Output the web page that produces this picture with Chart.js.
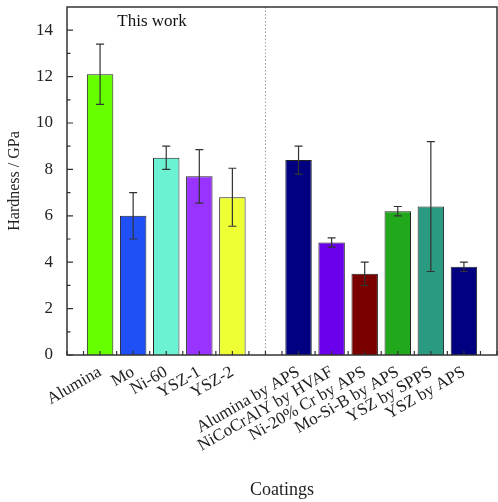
<!DOCTYPE html>
<html>
<head>
<meta charset="utf-8">
<script src="https://cdn.jsdelivr.net/npm/chart.js@4/dist/chart.umd.min.js"></script>
<style>
  html, body { margin: 0; padding: 0; background: #fff; }
  #wrap { width: 498px; height: 502px; }
</style>
</head>
<body>
<div id="wrap"><canvas id="hardness-chart"></canvas></div>
<script>
// empty slots at start, in the gap and at the end keep the spacing of the original
const categories = ['', 'Alumina', 'Mo', 'Ni-60', 'YSZ-1', 'YSZ-2', '',
  'Alumina by APS', 'NiCoCrAlY by HVAF', 'Ni-20% Cr by APS', 'Mo-Si-B by APS',
  'YSZ by SPPS', 'YSZ by APS', ''];
const hardness = [null, 12.1, 6.0, 8.5, 7.7, 6.8, null, 8.4, 4.85, 3.5, 6.2, 6.4, 3.8, null];
const hardnessErr = [null, 1.3, 1.0, 0.5, 1.15, 1.25, null, 0.6, 0.2, 0.5, 0.2, 2.8, 0.2, null];
const barColors = [null, '#66ff00', '#1e50f5', '#6cf2d2', '#9933ff', '#eeff33', null,
  '#000080', '#6a00ec', '#7a0000', '#22a81c', '#2a9a80', '#000080', null];
const yTicks = [0, 2, 4, 6, 8, 10, 12, 14];
const dividerIndex = 6;

const serif = '"Liberation Serif", "DejaVu Serif", serif';

function noPadding(scale) {
  scale.paddingLeft = 0;
  scale.paddingRight = 0;
  scale.paddingTop = 0;
  scale.paddingBottom = 0;
}

// error bars, inward ticks, frame, divider and the "This work" note
const extras = {
  id: 'extras',
  afterDatasetsDraw(chart) {
    const ctx = chart.ctx;
    const y = chart.scales.y;
    const meta = chart.getDatasetMeta(0);
    ctx.save();
    ctx.strokeStyle = '#333';
    ctx.lineWidth = 1.2;
    meta.data.forEach((bar, i) => {
      if (hardness[i] == null) return;
      const top = y.getPixelForValue(hardness[i] + hardnessErr[i]);
      const bot = y.getPixelForValue(hardness[i] - hardnessErr[i]);
      ctx.beginPath();
      ctx.moveTo(bar.x, top); ctx.lineTo(bar.x, bot);
      ctx.moveTo(bar.x - 4, top); ctx.lineTo(bar.x + 4, top);
      ctx.moveTo(bar.x - 4, bot); ctx.lineTo(bar.x + 4, bot);
      ctx.stroke();
    });
    ctx.restore();
  },
  afterDraw(chart) {
    const ctx = chart.ctx;
    const a = chart.chartArea;
    const x = chart.scales.x;
    const y = chart.scales.y;
    ctx.save();

    // dotted divider
    const dx = x.getPixelForValue(dividerIndex);
    ctx.strokeStyle = '#999';
    ctx.lineWidth = 1;
    ctx.setLineDash([1.5, 2]);
    ctx.beginPath();
    ctx.moveTo(dx, a.top); ctx.lineTo(dx, a.bottom);
    ctx.stroke();
    ctx.setLineDash([]);

    ctx.strokeStyle = '#333';
    ctx.lineWidth = 1.2;
    ctx.beginPath();
    for (let v = 0; v <= 14; v++) {
      const py = y.getPixelForValue(v);
      const len = v % 2 === 0 ? 6 : 3.5;
      ctx.moveTo(a.left, py); ctx.lineTo(a.left + len, py);
    }
    for (let v = 0; v <= categories.length - 1; v += 0.5) {
      const px = x.getPixelForValue(v);
      ctx.moveTo(px, a.bottom); ctx.lineTo(px, a.bottom - 4);
    }
    ctx.stroke();

    // frame
    ctx.lineWidth = 1.5;
    ctx.strokeStyle = '#333';
    ctx.strokeRect(a.left, a.top, a.right - a.left, a.bottom - a.top);

    ctx.fillStyle = '#111';
    ctx.font = '17px ' + serif;
    ctx.textAlign = 'center';
    ctx.textBaseline = 'alphabetic';
    ctx.fillText('This work', x.getPixelForValue(2.57), y.getPixelForValue(14.2));
    ctx.restore();
  }
};

new Chart(document.getElementById('hardness-chart'), {
  type: 'bar',
  data: {
    labels: categories,
    datasets: [{
      label: 'Hardness',
      data: hardness,
      backgroundColor: barColors,
      borderColor: '#222',
      borderWidth: 1,
      categoryPercentage: 0.8,
      barPercentage: 1.0
    }]
  },
  options: {
    responsive: true,
    maintainAspectRatio: false,
    animation: false,
    devicePixelRatio: 1,
    layout: { padding: { left: 0, right: 1, top: 7, bottom: 0 } },
    plugins: { legend: { display: false }, tooltip: { enabled: false } },
    scales: {
      x: {
        offset: false,
        grid: { display: false, drawTicks: false },
        border: { display: false },
        ticks: {
          autoSkip: false,
          minRotation: 30,
          maxRotation: 30,
          padding: 7,
          color: '#222',
          font: { family: serif, size: 17 }
        },
        title: {
          display: true,
          text: 'Coatings',
          color: '#222',
          font: { family: serif, size: 18 },
          padding: { top: 0, bottom: 1 }
        },
        afterFit(scale) { scale.height = 147; noPadding(scale); }
      },
      y: {
        min: 0,
        max: 15,
        grid: { display: false, drawTicks: false },
        border: { display: false },
        afterBuildTicks(scale) { scale.ticks = yTicks.map(v => ({ value: v })); },
        ticks: {
          padding: 14,
          color: '#222',
          font: { family: serif, size: 17 }
        },
        title: {
          display: true,
          text: 'Hardness / GPa',
          color: '#222',
          font: { family: serif, size: 16 },
          padding: { top: 5, bottom: 0 }
        },
        afterFit(scale) { scale.width = 67; noPadding(scale); }
      }
    }
  },
  plugins: [extras]
});
</script>
</body>
</html>
